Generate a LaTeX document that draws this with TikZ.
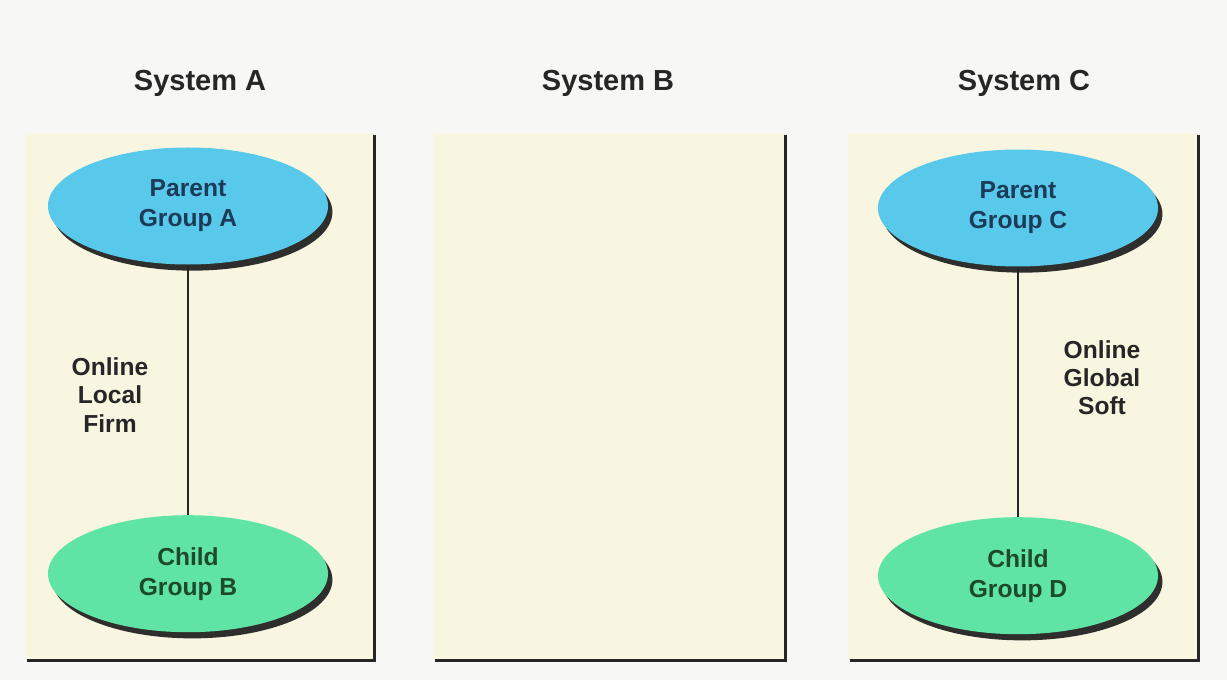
\documentclass[tikz,border=0pt]{standalone}
\usepackage{fontspec}
\setmainfont{Liberation Sans}
\usetikzlibrary{positioning, shapes.geometric, shadows}

\definecolor{pagebg}{HTML}{F7F7F6}
\definecolor{panelbg}{HTML}{F8F5E1}
\definecolor{parentblue}{HTML}{58C9EA}
\definecolor{childgreen}{HTML}{60E4A6}
\definecolor{parenttext}{HTML}{1B3B58}
\definecolor{childtext}{HTML}{1E4A2C}

\tikzset{
  panel/.style={rectangle, fill=panelbg, minimum width=6.98cm, minimum height=10.54cm, inner sep=0pt},
  panelrule/.style={line width=1.9pt, black!85},
  title/.style={font=\fontsize{16.5}{19}\selectfont\bfseries, text=black!85},
  group/.style={ellipse, minimum width=5.6cm, minimum height=2.34cm, align=center,
    font=\fontsize{14}{17}\selectfont\bfseries,
    drop shadow={shadow xshift=2.5pt, shadow yshift=-3.5pt, fill=black!90, opacity=0.9}},
  parentgroup/.style={group, fill=parentblue, text=parenttext},
  childgroup/.style={group, fill=childgreen, text=childtext},
  link/.style={line width=1.5pt, black!85},
  linklabel/.style={align=center, font=\fontsize{14}{16}\selectfont\bfseries, text=black!85}
}

\begin{document}
\begin{tikzpicture}[node distance=5.0cm]
    % Background
    \fill[pagebg] (0,0) rectangle (24.54,-13.6);
    \useasboundingbox (0,0) rectangle (24.54,-13.6);

    % Titles
    \node[title] (titleA) at (4.0,-1.66) {System A};
    \node[title] (titleB) at (12.16,-1.66) {System B};
    \node[title] (titleC) at (20.48,-1.66) {System C};

    % Panels
    \node[panel] (panelA) at (3.99,-7.93) {};
    \node[panel, minimum width=7.04cm] (panelB) at (12.18,-7.93) {};
    \node[panel, minimum width=7.0cm] (panelC) at (20.46,-7.93) {};
    \foreach \p in {panelA, panelB, panelC}
        \draw[panelrule] ([yshift=-0.05cm]\p.north east) -- (\p.south east) -- ([xshift=0.05cm]\p.south west);

    % Groups
    \node[parentgroup] (parentA) at (3.76,-4.12) {Parent\\Group A};
    \node[childgroup, below=of parentA] (childA) {Child\\Group B};
    \node[parentgroup] (parentC) at (20.36,-4.16) {Parent\\Group C};
    \node[childgroup, below=of parentC] (childD) {Child\\Group D};

    % Links
    \draw[link] (parentA) -- (childA);
    \draw[link] (parentC) -- (childD);
    \node[linklabel] (labelA) at (2.2,-7.9) {Online\\Local\\Firm};
    \node[linklabel] (labelC) at (22.04,-7.56) {Online\\Global\\Soft};
\end{tikzpicture}
\end{document}
